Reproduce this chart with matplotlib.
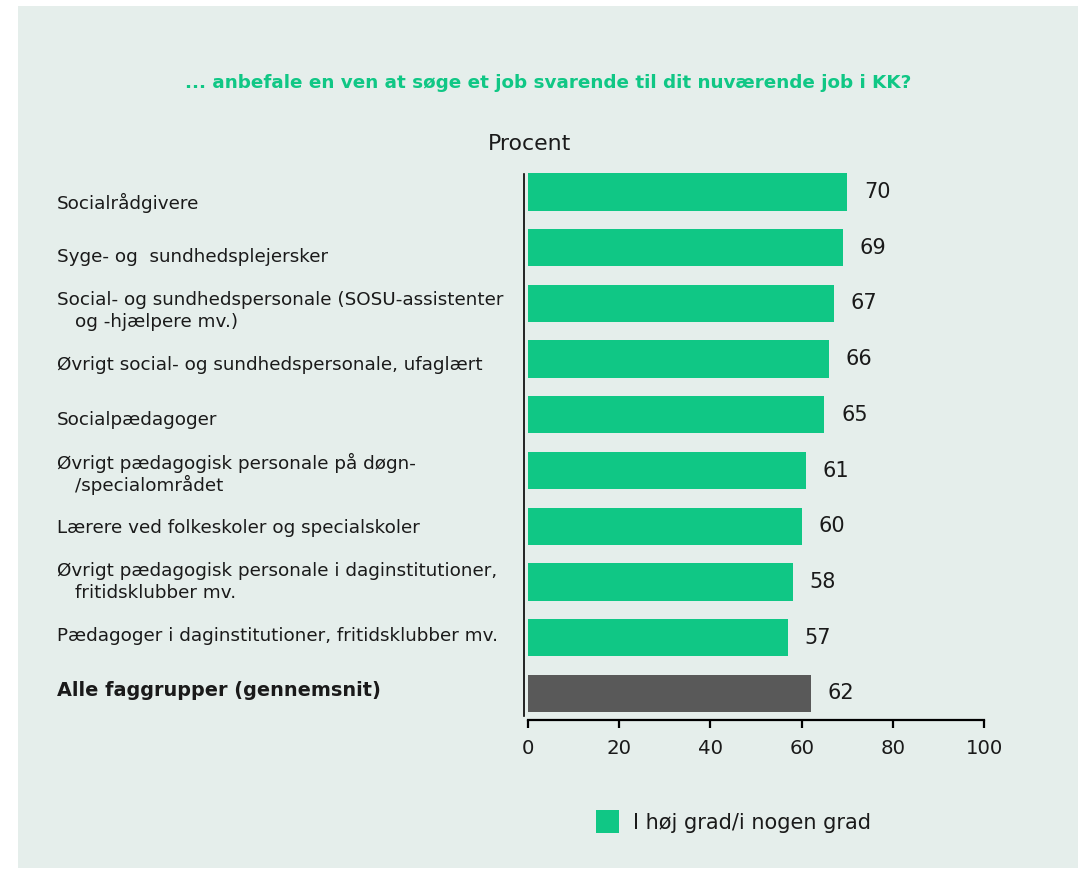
import matplotlib
matplotlib.use("Agg")
import matplotlib.pyplot as plt
from matplotlib.patches import Rectangle
import matplotlib.transforms as mtransforms
from matplotlib import font_manager

categories = [
    ["Socialrådgivere"],
    ["Syge- og  sundhedsplejersker"],
    ["Social- og sundhedspersonale (SOSU-assistenter", "og -hjælpere mv.)"],
    ["Øvrigt social- og sundhedspersonale, ufaglært"],
    ["Socialpædagoger"],
    ["Øvrigt pædagogisk personale på døgn-", "/specialområdet"],
    ["Lærere ved folkeskoler og specialskoler"],
    ["Øvrigt pædagogisk personale i daginstitutioner,", "fritidsklubber mv."],
    ["Pædagoger i daginstitutioner, fritidsklubber mv."],
    ["Alle faggrupper (gennemsnit)"],
]
values = [70, 69, 67, 66, 65, 61, 60, 58, 57, 62]
xticks = [0, 20, 40, 60, 80, 100]
title = "... anbefale en ven at søge et job svarende til dit nuværende job i KK?"
legend_label = "I høj grad/i nogen grad"
axis_label = "Procent"

GREEN = "#10C785"
GREY = "#595959"
BG = "#E5EEEB"
TXT = "#1a1a1a"
FONT = "DejaVu Sans"

names = {f.name for f in font_manager.fontManager.ttflist}
if "Liberation Sans Narrow" in names:
    TFONT, TSIZE = "Liberation Sans Narrow", 16.5
else:
    TFONT, TSIZE = FONT, 13.25

W, H = 1082, 871
fig = plt.figure(figsize=(W / 100, H / 100), dpi=100, facecolor="white")
fig.patches.append(Rectangle((18 / W, (H - 868) / H), (1078 - 18) / W, (868 - 6) / H,
                             transform=fig.transFigure, facecolor=BG, edgecolor="none", zorder=-5))

left, right, top, bottom = 524, 984, 170, 720
ax = fig.add_axes([left / W, (H - bottom) / H, (right - left) / W, (bottom - top) / H])
ax.set_facecolor("none")

n = len(values)
ypos = list(range(n))
colors = [GREEN] * (n - 1) + [GREY]
ax.barh(ypos, values, height=0.67, color=colors, left=0)

ax.set_xlim(-0.9, 100)
ax.set_ylim((720 - 192) / 55.7, (170 - 192) / 55.7)

for s in ["top", "right"]:
    ax.spines[s].set_visible(False)
ax.spines["bottom"].set_bounds(0, 100)
ax.spines["bottom"].set_linewidth(1.6)
ax.spines["left"].set_bounds(-0.33, 9.4)
ax.spines["left"].set_linewidth(1.2)

ax.set_xticks(xticks)
ax.set_xticklabels([str(t) for t in xticks], fontsize=14.2, family=FONT, color=TXT)
ax.tick_params(axis="x", length=6, width=1.6, pad=8)
ax.set_yticks([])

for y, v in zip(ypos, values):
    ax.annotate(str(v), (v, y), xytext=(12, 0), textcoords="offset points",
                va="center", ha="left", fontsize=15, family=FONT, color=TXT)

LS = 13.2
lab_trans = mtransforms.blended_transform_factory(fig.transFigure, ax.transData)
for i, (y, lines) in enumerate(zip(ypos, categories)):
    bold = (i == n - 1)
    shift = -11 + i * 1.56
    if len(lines) == 1:
        off = mtransforms.offset_copy(lab_trans, fig=fig, x=0, y=shift, units="dots")
        ax.text(57 / W, y, lines[0], transform=off, va="center", ha="left",
                fontsize=13.9 if bold else LS, fontweight="bold" if bold else "normal",
                family=FONT, color=TXT)
    else:
        off1 = mtransforms.offset_copy(lab_trans, fig=fig, x=0, y=shift + 11, units="dots")
        off2 = mtransforms.offset_copy(lab_trans, fig=fig, x=0, y=shift - 11, units="dots")
        ax.text(57 / W, y, lines[0], transform=off1, va="center", ha="left",
                fontsize=LS, family=FONT, color=TXT)
        ax.text(75 / W, y, lines[1], transform=off2, va="center", ha="left",
                fontsize=LS, family=FONT, color=TXT)

fig.text(548 / W, (H - 83) / H, title, ha="center", va="center", fontsize=TSIZE,
         fontweight="bold", family=TFONT, color=GREEN)
fig.text(530 / W, (H - 144) / H, axis_label, ha="center", va="center", fontsize=15.8,
         family=FONT, color=TXT)

fig.patches.append(Rectangle((596 / W, (H - 833) / H), 23 / W, 23 / H,
                             transform=fig.transFigure, facecolor=GREEN, edgecolor="none"))
fig.text(633 / W, (H - 823) / H, legend_label, ha="left", va="center", fontsize=15,
         family=FONT, color=TXT)

fig.savefig("out.png", dpi=100, facecolor="white")
